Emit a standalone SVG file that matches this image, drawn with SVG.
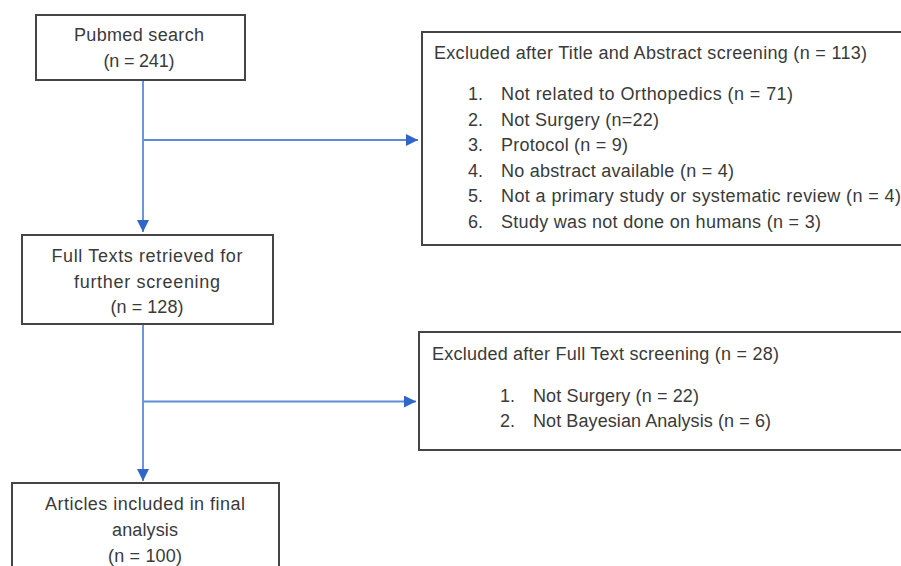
<svg xmlns="http://www.w3.org/2000/svg" width="901" height="566" viewBox="0 0 901 566">
<style>
.box{fill:#fff;stroke:#454545;stroke-width:2}
.t{font-family:"Liberation Sans",Arial,sans-serif;font-size:18px;fill:#3a3a3a}
.c{text-anchor:middle}
.ln{stroke:#5b8bd6;stroke-width:1.8;fill:none}
</style>
<defs>
<marker id="ah" markerUnits="userSpaceOnUse" markerWidth="12" markerHeight="12" refX="10" refY="5" orient="auto" viewBox="0 0 10 10">
<path d="M0,0 L10,5 L0,10 Z" fill="#2f66c8"/>
</marker>
</defs>
<g id="connectors">
<path class="ln" d="M143,80 V232" marker-end="url(#ah)"/>
<path class="ln" d="M144,140 H418" marker-end="url(#ah)"/>
<path class="ln" d="M143,324 V481" marker-end="url(#ah)"/>
<path class="ln" d="M144,401.5 H416" marker-end="url(#ah)"/>
</g>
<g id="pubmed">
<rect class="box" x="36" y="15" width="209" height="65"/>
<text class="t c" x="139" y="41" textLength="130">Pubmed search</text>
<text class="t c" x="139" y="67" textLength="71">(n = 241)</text>
</g>
<g id="excluded1">
<rect class="box" x="422" y="32" width="490" height="213"/>
<text class="t" x="434" y="59" textLength="433">Excluded after Title and Abstract screening (n = 113)</text>
<text class="t" x="468" y="100">1.</text><text class="t" x="501" y="100" textLength="292">Not related to Orthopedics (n = 71)</text>
<text class="t" x="468" y="126">2.</text><text class="t" x="501" y="126" textLength="158">Not Surgery (n=22)</text>
<text class="t" x="468" y="151">3.</text><text class="t" x="501" y="151" textLength="127">Protocol (n = 9)</text>
<text class="t" x="468" y="177">4.</text><text class="t" x="501" y="177" textLength="233">No abstract available (n = 4)</text>
<text class="t" x="468" y="202">5.</text><text class="t" x="501" y="202" textLength="400">Not a primary study or systematic review (n = 4)</text>
<text class="t" x="468" y="228">6.</text><text class="t" x="501" y="228" textLength="320">Study was not done on humans (n = 3)</text>
</g>
<g id="fulltexts">
<rect class="box" x="22" y="235" width="251" height="89"/>
<text class="t c" x="147" y="262" textLength="191">Full Texts retrieved for</text>
<text class="t c" x="147" y="288" textLength="146">further screening</text>
<text class="t c" x="147" y="313" textLength="73">(n = 128)</text>
</g>
<g id="excluded2">
<rect class="box" x="419" y="332" width="493" height="118"/>
<text class="t" x="432" y="360" textLength="347">Excluded after Full Text screening (n = 28)</text>
<text class="t" x="500" y="402">1.</text><text class="t" x="533" y="402" textLength="166">Not Surgery (n = 22)</text>
<text class="t" x="500" y="427">2.</text><text class="t" x="533" y="427" textLength="238">Not Bayesian Analysis (n = 6)</text>
</g>
<g id="included">
<rect class="box" x="12" y="483" width="267" height="100"/>
<text class="t c" x="145" y="510" textLength="200">Articles included in final</text>
<text class="t c" x="145" y="536" textLength="66">analysis</text>
<text class="t c" x="145" y="562" textLength="74">(n = 100)</text>
</g>
</svg>
